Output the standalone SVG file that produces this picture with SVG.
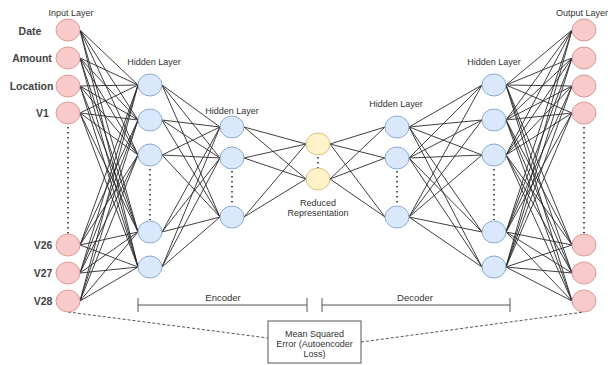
<svg xmlns="http://www.w3.org/2000/svg" width="613" height="365" viewBox="0 0 613 365">
<style>
.bg{fill:#fff}
.c{fill:none;stroke:#2a2a2a;stroke-width:0.9}
.in{fill:#f8caca;stroke:#dc9c9c;stroke-width:1}
.hd{fill:#dae8fc;stroke:#8eaad2;stroke-width:1}
.rd{fill:#fff1c8;stroke:#d8c186;stroke-width:1}
.dot{fill:none;stroke:#555;stroke-width:2;stroke-dasharray:1.6 3.4}
.lbl{font-family:"Liberation Sans",Arial,sans-serif;font-size:9px;fill:#333;text-anchor:middle}
.nm{font-family:"Liberation Sans",Arial,sans-serif;font-size:10.5px;font-weight:bold;fill:#444;text-anchor:middle}
.br{fill:none;stroke:#555;stroke-width:1}
.ds{fill:none;stroke:#555;stroke-width:1;stroke-dasharray:3 2}
</style>
<rect class="bg" x="0" y="0" width="613" height="365"/>
<g id="connectors">
<path class="c" d="M80 30L138 85M80 30L138 120M80 30L138 155M80 30L138 232M80 30L138 267
M80 58L138 85M80 58L138 120M80 58L138 155M80 58L138 232M80 58L138 267
M80 86L138 85M80 86L138 120M80 86L138 155M80 86L138 232M80 86L138 267
M80 113L138 85M80 113L138 120M80 113L138 155M80 113L138 232M80 113L138 267
M80 245L138 85M80 245L138 120M80 245L138 155M80 245L138 232M80 245L138 267
M80 273L138 85M80 273L138 120M80 273L138 155M80 273L138 232M80 273L138 267
M80 301L138 85M80 301L138 120M80 301L138 155M80 301L138 232M80 301L138 267"/>
<path class="c" d="M162 85L220 127M162 85L220 158M162 85L220 217
M162 120L220 127M162 120L220 158M162 120L220 217
M162 155L220 127M162 155L220 158M162 155L220 217
M162 232L220 127M162 232L220 158M162 232L220 217
M162 267L220 127M162 267L220 158M162 267L220 217"/>
<path class="c" d="M244 127L306 144M244 127L306 179M244 158L306 144M244 158L306 179M244 217L306 144M244 217L306 179"/>
<path class="c" d="M330 144L385 127M330 144L385 158M330 144L385 217M330 179L385 127M330 179L385 158M330 179L385 217"/>
<path class="c" d="M409 127L482 85M409 127L482 120M409 127L482 155M409 127L482 232M409 127L482 267
M409 158L482 85M409 158L482 120M409 158L482 155M409 158L482 232M409 158L482 267
M409 217L482 85M409 217L482 120M409 217L482 155M409 217L482 232M409 217L482 267"/>
<path class="c" d="M506 85L572 30M506 85L572 58M506 85L572 86M506 85L572 113M506 85L572 245M506 85L572 273M506 85L572 301
M506 120L572 30M506 120L572 58M506 120L572 86M506 120L572 113M506 120L572 245M506 120L572 273M506 120L572 301
M506 155L572 30M506 155L572 58M506 155L572 86M506 155L572 113M506 155L572 245M506 155L572 273M506 155L572 301
M506 232L572 30M506 232L572 58M506 232L572 86M506 232L572 113M506 232L572 245M506 232L572 273M506 232L572 301
M506 267L572 30M506 267L572 58M506 267L572 86M506 267L572 113M506 267L572 245M506 267L572 273M506 267L572 301"/>
<path class="ds" d="M68 312L268 338"/>
<path class="ds" d="M361 342L584 312"/>
</g>
<g id="dots">
<path class="dot" d="M68 127V234"/>
<path class="dot" d="M150 169V220"/>
<path class="dot" d="M232 171V206"/>
<path class="dot" d="M318 157V168"/>
<path class="dot" d="M397 171V206"/>
<path class="dot" d="M494 169V220"/>
<path class="dot" d="M584 127V234"/>
</g>
<g id="labels">
<text class="lbl" x="71" y="16">Input Layer</text>
<text class="lbl" x="154" y="65">Hidden Layer</text>
<text class="lbl" x="232" y="114">Hidden Layer</text>
<text class="lbl" x="396" y="107">Hidden Layer</text>
<text class="lbl" x="494" y="65">Hidden Layer</text>
<text class="lbl" x="582" y="16">Output Layer</text>
<text class="lbl" x="318" y="206">Reduced</text>
<text class="lbl" x="318" y="216">Representation</text>
</g>
<g id="input-layer">
<g id="in-date"><ellipse class="in" cx="68" cy="30" rx="12" ry="11"/><text class="nm" x="30" y="35">Date</text></g>
<g id="in-amount"><ellipse class="in" cx="68" cy="58" rx="12" ry="11"/><text class="nm" x="32" y="62">Amount</text></g>
<g id="in-location"><ellipse class="in" cx="68" cy="86" rx="12" ry="11"/><text class="nm" x="31.5" y="90">Location</text></g>
<g id="in-v1"><ellipse class="in" cx="68" cy="113" rx="12" ry="11"/><text class="nm" x="42.5" y="117">V1</text></g>
<g id="in-v26"><ellipse class="in" cx="68" cy="245" rx="12" ry="11"/><text class="nm" x="43" y="249">V26</text></g>
<g id="in-v27"><ellipse class="in" cx="68" cy="273" rx="12" ry="11"/><text class="nm" x="43" y="277">V27</text></g>
<g id="in-v28"><ellipse class="in" cx="68" cy="301" rx="12" ry="11"/><text class="nm" x="43" y="305">V28</text></g>
</g>
<g id="enc-hidden-1">
<g id="e1-1"><ellipse class="hd" cx="150" cy="85" rx="12" ry="11"/></g>
<g id="e1-2"><ellipse class="hd" cx="150" cy="120" rx="12" ry="11"/></g>
<g id="e1-3"><ellipse class="hd" cx="150" cy="155" rx="12" ry="11"/></g>
<g id="e1-4"><ellipse class="hd" cx="150" cy="232" rx="12" ry="11"/></g>
<g id="e1-5"><ellipse class="hd" cx="150" cy="267" rx="12" ry="11"/></g>
</g>
<g id="enc-hidden-2">
<g id="e2-1"><ellipse class="hd" cx="232" cy="127" rx="12" ry="11"/></g>
<g id="e2-2"><ellipse class="hd" cx="232" cy="158" rx="12" ry="11"/></g>
<g id="e2-3"><ellipse class="hd" cx="232" cy="217" rx="12" ry="11"/></g>
</g>
<g id="reduced">
<g id="r-1"><ellipse class="rd" cx="318" cy="144" rx="12" ry="11"/></g>
<g id="r-2"><ellipse class="rd" cx="318" cy="179" rx="12" ry="11"/></g>
</g>
<g id="dec-hidden-1">
<g id="d1-1"><ellipse class="hd" cx="397" cy="127" rx="12" ry="11"/></g>
<g id="d1-2"><ellipse class="hd" cx="397" cy="158" rx="12" ry="11"/></g>
<g id="d1-3"><ellipse class="hd" cx="397" cy="217" rx="12" ry="11"/></g>
</g>
<g id="dec-hidden-2">
<g id="d2-1"><ellipse class="hd" cx="494" cy="85" rx="12" ry="11"/></g>
<g id="d2-2"><ellipse class="hd" cx="494" cy="120" rx="12" ry="11"/></g>
<g id="d2-3"><ellipse class="hd" cx="494" cy="155" rx="12" ry="11"/></g>
<g id="d2-4"><ellipse class="hd" cx="494" cy="232" rx="12" ry="11"/></g>
<g id="d2-5"><ellipse class="hd" cx="494" cy="267" rx="12" ry="11"/></g>
</g>
<g id="output-layer">
<g id="o-1"><ellipse class="in" cx="584" cy="30" rx="12" ry="11"/></g>
<g id="o-2"><ellipse class="in" cx="584" cy="58" rx="12" ry="11"/></g>
<g id="o-3"><ellipse class="in" cx="584" cy="86" rx="12" ry="11"/></g>
<g id="o-4"><ellipse class="in" cx="584" cy="113" rx="12" ry="11"/></g>
<g id="o-5"><ellipse class="in" cx="584" cy="245" rx="12" ry="11"/></g>
<g id="o-6"><ellipse class="in" cx="584" cy="273" rx="12" ry="11"/></g>
<g id="o-7"><ellipse class="in" cx="584" cy="301" rx="12" ry="11"/></g>
</g>
<g id="encoder-bracket">
<path class="br" d="M138 298V312M138 305H307M307 298V312"/>
<text class="lbl" x="223" y="301" style="font-size:9.5px">Encoder</text>
</g>
<g id="decoder-bracket">
<path class="br" d="M322 298V312M322 305H510M510 298V312"/>
<text class="lbl" x="415" y="301" style="font-size:9.5px">Decoder</text>
</g>
<g id="loss-box">
<rect x="268" y="321" width="93" height="42" fill="#fff" stroke="#555" stroke-width="1"/>
<text class="lbl" x="314.5" y="337">Mean Squared</text>
<text class="lbl" x="314.5" y="347">Error (Autoencoder</text>
<text class="lbl" x="314.5" y="357">Loss)</text>
</g>
</svg>
